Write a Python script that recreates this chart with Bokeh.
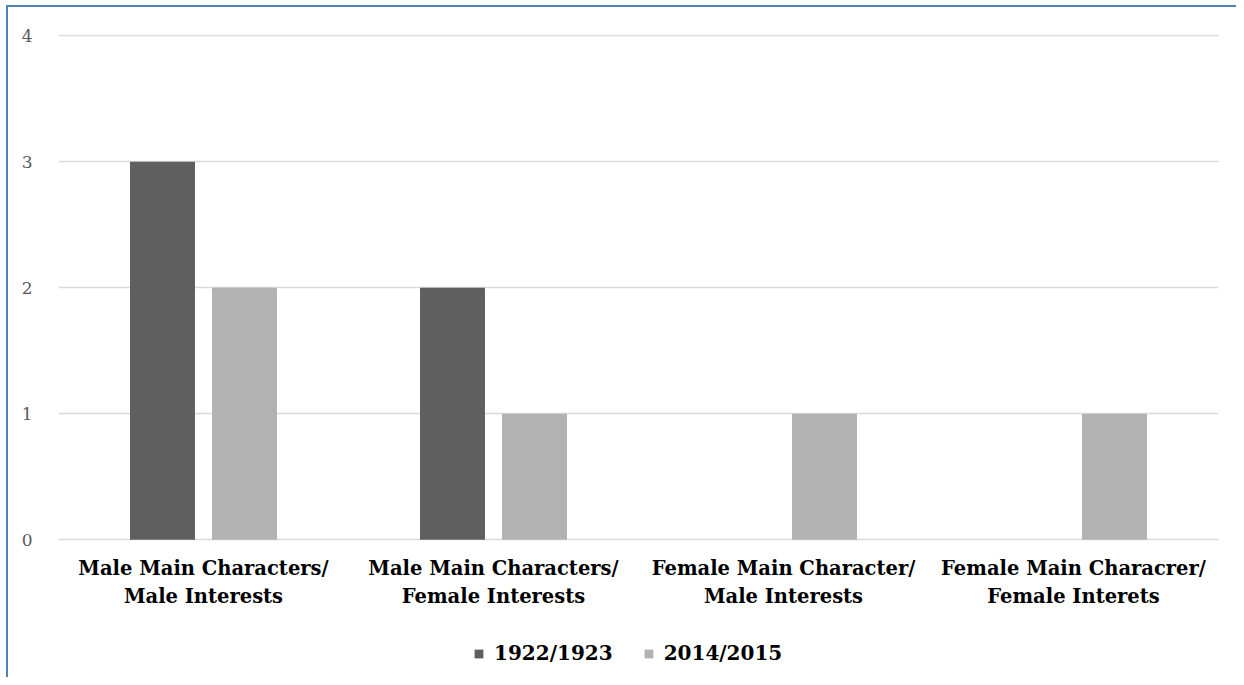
from bokeh.plotting import figure
from bokeh.models import ColumnDataSource, FactorRange, Range1d, Legend, LegendItem, FixedTicker
from bokeh.core.properties import value
from bokeh.transform import dodge
from bokeh.embed import file_html
from bokeh.resources import INLINE

categories = [
    "Male Main Characters/\nMale Interests",
    "Male Main Characters/\nFemale Interests",
    "Female Main Character/\nMale Interests",
    "Female Main Characrer/\nFemale Interets",
]
series_names = ["1922/1923", "2014/2015"]
values_1922 = [3, 2, 0, 0]
values_2014 = [2, 1, 1, 1]
y_ticks = [0, 1, 2, 3, 4]

colors = ["#5F5F5F", "#B2B2B2"]
FONT = "DejaVu Serif"
LABEL_Y1 = -0.2281   # baseline of first label line (below the zero line)
LABEL_Y2 = -0.4503   # baseline of second label line

line1 = [c.split("\n")[0] for c in categories]
line2 = [c.split("\n")[1] for c in categories]

src = ColumnDataSource(dict(cat=categories, a=values_1922, b=values_2014,
                            l1=line1, l2=line2))

p = figure(
    x_range=FactorRange(*categories, range_padding=0),
    y_range=Range1d(4.01 - 643 / 126, 4.01),
    frame_width=1160, frame_height=643,
    output_backend="svg", toolbar_location=None,
    x_axis_location=None,
    min_border_left=50, min_border_right=18, min_border_top=27,
    min_border_bottom=0,
)
p.styles = {"border-left": "2px solid #4F81BD", "border-top": "2px solid #4F81BD",
            "margin-left": "6px", "margin-top": "5px"}
p.outline_line_color = None

r1 = p.vbar(x=dodge("cat", -0.1414, range=p.x_range), top="a", width=0.224,
            source=src, fill_color=colors[0], line_color=None)
r2 = p.vbar(x=dodge("cat", 0.1414, range=p.x_range), top="b", width=0.224,
            source=src, fill_color=colors[1], line_color=None)

# category labels under the zero line
for col, yy in (("l1", LABEL_Y1), ("l2", LABEL_Y2)):
    p.text(x="cat", y=yy, text=col, source=src,
           text_font=value(FONT), text_font_style="bold",
           text_font_size=value("19.5px"), text_color="#000000",
           text_align="center", text_baseline="alphabetic")

p.xgrid.grid_line_color = None
p.ygrid.grid_line_color = "#D9D9D9"
p.ygrid.grid_line_width = 1.5
p.yaxis.ticker = FixedTicker(ticks=y_ticks)

p.yaxis.axis_line_color = None
p.yaxis.major_tick_line_color = None
p.yaxis.minor_tick_line_color = None
p.yaxis.major_label_text_font = FONT
p.yaxis.major_label_text_font_size = "17px"
p.yaxis.major_label_text_color = "#595959"
p.yaxis.major_label_standoff = 20

legend = Legend(items=[LegendItem(label=series_names[0], renderers=[r1]),
                       LegendItem(label=series_names[1], renderers=[r2])],
                orientation="horizontal", location=(415, 12))
legend.label_text_font = FONT
legend.label_text_font_style = "bold"
legend.label_text_font_size = "20px"
legend.label_text_color = "#000000"
legend.glyph_width = 11
legend.glyph_height = 11
legend.spacing = 30
legend.label_standoff = 10
legend.border_line_color = None
legend.background_fill_alpha = 0
legend.margin = 0
legend.padding = 0
p.add_layout(legend, "center")

open("out.html", "w").write(file_html(p, INLINE))
